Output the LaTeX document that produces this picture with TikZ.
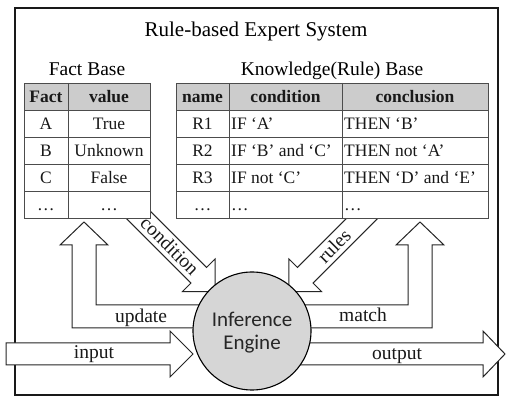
\documentclass[tikz,border=0pt]{standalone}
\usepackage{fontspec}
\setmainfont{Liberation Serif}
\newfontfamily\enginefont{Carlito}
\usetikzlibrary{positioning}

\tikzset{
  blockarrow/.style={draw=black!85, fill=white, line width=1pt, line join=miter},
  gridline/.style={draw=black!70, line width=0.8pt},
  headcell/.style={fill=black!20},
  celltext/.style={font=\fontsize{17.5}{20}\selectfont, inner sep=0pt, text=black!90},
  headtext/.style={font=\fontsize{17.5}{20}\selectfont\bfseries, inner sep=0pt, text=black!90},
  arrowtext/.style={font=\fontsize{19.5}{22}\selectfont, inner sep=0pt, text=black!90},
}

\begin{document}
\begin{tikzpicture}[x=1pt,y=-1pt]
\useasboundingbox (0,0) rectangle (507,398);
\fill[white] (0,0) rectangle (507,398);

% outer frame
\draw[line width=2.6pt, black!90] (15,8) rectangle (498,395);

% update / match (L-shaped, back to the tables)
\draw[blockarrow] (230,305) -- (96,305) -- (96,245) -- (108,245) -- (84,222) -- (60,245) -- (72,245) -- (72,328) -- (230,328) -- cycle;
\draw[blockarrow] (274,305) -- (408,305) -- (408,245) -- (396,245) -- (420,222) -- (444,245) -- (432,245) -- (432,328) -- (274,328) -- cycle;

% condition / rules (diagonal, into the engine)
\draw[blockarrow] (134.53,195.47) -- (206.53,267.47) -- (215.01,258.99) -- (215,291.5) -- (182.49,291.51) -- (190.97,283.03) -- (118.97,211.03) -- cycle;
\draw[blockarrow] (369.47,195.47) -- (297.47,267.47) -- (288.99,258.99) -- (289,291.5) -- (321.51,291.51) -- (313.03,283.03) -- (385.03,211.03) -- cycle;

% fact base table
\fill[white] (24,83) rectangle (150,218);
\filldraw[gridline, headcell] (24,83) rectangle (150,110);
\draw[gridline] (24,83) rectangle (150,218);
\draw[gridline] (68,83) -- (68,218);
\draw[gridline] (24,137) -- (150,137);
\draw[gridline] (24,164) -- (150,164);
\draw[gridline] (24,191) -- (150,191);

% knowledge base table
\fill[white] (176,83) rectangle (488,218);
\filldraw[gridline, headcell] (176,83) rectangle (488,110);
\draw[gridline] (176,83) rectangle (488,218);
\draw[gridline] (229,83) -- (229,218);
\draw[gridline] (342,83) -- (342,218);
\draw[gridline] (176,137) -- (488,137);
\draw[gridline] (176,164) -- (488,164);
\draw[gridline] (176,191) -- (488,191);

% input / output
\draw[blockarrow] (6,343) -- (170,343) -- (170,331) -- (193,354) -- (170,377) -- (170,365) -- (6,365) -- cycle;
\draw[blockarrow] (290,343) -- (483,343) -- (483,331) -- (505,354) -- (483,377) -- (483,365) -- (290,365) -- cycle;

% engine
\draw[line width=1.1pt, fill=black!16] (252,331) circle (59);
\node[font=\enginefont\fontsize{21}{24}\selectfont, inner sep=0pt, anchor=base, text=black!85] (engine1) at (252,327) {Inference};
\node[font=\enginefont\fontsize{21}{24}\selectfont, inner sep=0pt, anchor=base, text=black!85] (engine2) at (252,350) {Engine};

% titles
\node[font=\fontsize{21}{24}\selectfont, inner sep=0pt, anchor=base] (title) at (256,37) {Rule-based Expert System};
\node[font=\fontsize{19.5}{22}\selectfont, inner sep=0pt, anchor=base] (factbase) at (87,76) {Fact Base};
\node[font=\fontsize{19.5}{22}\selectfont, inner sep=0pt, anchor=base] (rulebase) at (332,76) {Knowledge(Rule) Base};

% fact base entries
\node[headtext, anchor=base] (fhead1) at (46,102.3) {Fact};
\node[headtext, anchor=base] (fhead2) at (109,102.3) {value};
\node[celltext, anchor=base] (fa) at (46,129.3) {A};
\node[celltext, anchor=base] (fava) at (109,129.3) {True};
\node[celltext, anchor=base] (fb) at (46,156.3) {B};
\node[celltext, anchor=base] (fbva) at (109,156.3) {Unknown};
\node[celltext, anchor=base] (fc) at (46,183.3) {C};
\node[celltext, anchor=base] (fcva) at (109,183.3) {False};
\node[celltext, anchor=base] (fdots) at (46,210.3) {\ldots};
\node[celltext, anchor=base] (fdotsva) at (109,210.3) {\ldots};

% knowledge base entries
\node[headtext, anchor=base] (khead1) at (202.5,102.3) {name};
\node[headtext, anchor=base] (khead2) at (285.5,102.3) {condition};
\node[headtext, anchor=base] (khead3) at (415,102.3) {conclusion};
\node[celltext, anchor=base] (r1) at (202.5,129.3) {R1};
\node[celltext, anchor=base west] (r1if) at (231,129.3) {IF `A'};
\node[celltext, anchor=base west] (r1then) at (344,129.3) {THEN `B'};
\node[celltext, anchor=base] (r2) at (202.5,156.3) {R2};
\node[celltext, anchor=base west] (r2if) at (231,156.3) {IF `B' and `C'};
\node[celltext, anchor=base west] (r2then) at (344,156.3) {THEN not `A'};
\node[celltext, anchor=base] (r3) at (202.5,183.3) {R3};
\node[celltext, anchor=base west] (r3if) at (231,183.3) {IF not `C'};
\node[celltext, anchor=base west] (r3then) at (344,183.3) {THEN `D' and `E'};
\node[celltext, anchor=base] (rdots) at (202.5,210.3) {\ldots};
\node[celltext, anchor=base west] (rdotsif) at (231,210.3) {\ldots};
\node[celltext, anchor=base west] (rdotsthen) at (344,210.3) {\ldots};

% arrow labels
\node[arrowtext, anchor=base] (lblupdate) at (141,323) {update};
\node[arrowtext, anchor=base] (lblmatch) at (363,322) {match};
\node[arrowtext, anchor=base] (lblinput) at (94,359) {input};
\node[arrowtext, anchor=base] (lbloutput) at (397,360) {output};
\node[arrowtext, rotate=-45] (lblcondition) at (170,246) {condition};
\node[arrowtext, rotate=45] (lblrules) at (334,246) {rules};

\end{tikzpicture}
\end{document}
